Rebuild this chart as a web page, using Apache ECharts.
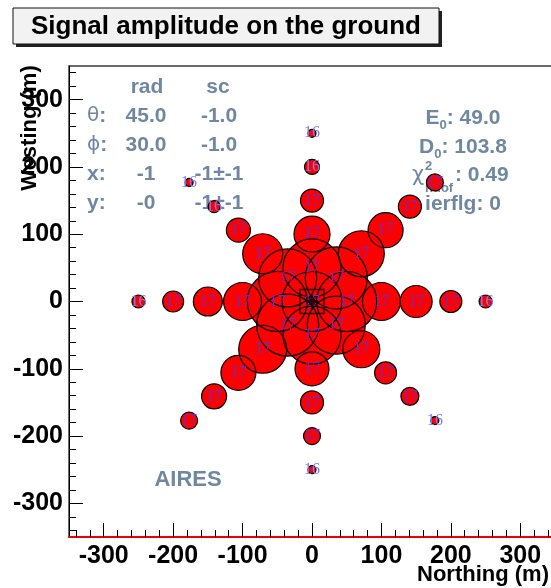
<!DOCTYPE html>
<html lang="en">
<head>
<meta charset="UTF-8">
<title>Signal amplitude on the ground</title>
<script src="https://cdn.jsdelivr.net/npm/echarts@6/dist/echarts.min.js"></script>
<style>
  html, body { margin: 0; padding: 0; background: #fff; }
</style>
</head>
<body>
<div id="main" style="width: 551px;height:588px;"></div>

<script type="text/javascript">
  // station positions (m), order: core, then rings of 50..250 m going E, NE, N, NW, W, SW, S, SE
  var northing = [0,
    50, 35, 0, -35, -50, -35, 0, 35,
    100, 71, 0, -71, -100, -71, 0, 71,
    150, 106, 0, -106, -150, -106, 0, 106,
    200, 141, 0, -141, -200, -141, 0, 141,
    250, 177, 0, -177, -250, -177, 0, 177];
  var westing = [0,
    0, 35, 50, 35, 0, -35, -50, -35,
    0, 71, 100, 71, 0, -71, -100, -71,
    0, 106, 150, 106, 0, -106, -150, -106,
    0, 141, 200, 141, 0, -141, -200, -141,
    0, 177, 250, 177, 0, -177, -250, -177];
  // signal amplitude (arbitrary units, drawn as circle radius)
  var signal = [30,
    30, 31, 29, 29, 30, 31, 29, 29,
    19, 23, 18, 20, 19, 24, 17, 18.5,
    16, 17.5, 11.5, 12, 14.5, 17.5, 11.5, 11,
    11, 11.5, 7.5, 6, 10.5, 12.5, 8.5, 9,
    6.5, 8.5, 4, 4, 6.5, 8.5, 4, 4];
  var stationCode = ['17',
    '17', '17', '17', '17', '17', '17', '17', '17',
    '17', '17', '17', '17', '17', '17', '17', '17',
    '17', '17', '17', '17', '17', '17', '17', '17',
    '17', '17', '16', '16', '17', '17', '17', '17',
    '16', '17', '16', '16', '16', '17', '16', '16'];

  var coreN = [0];
  var coreW = [0];

  var majorTicks = [-300, -200, -100, 0, 100, 200, 300];
  var minorTicks = [];
  for (var t = -340; t <= 340; t += 20) minorTicks.push(t);

  var statHead = ['rad', 'sc'];
  var statName = ['{g|θ}:', '{g|ϕ}:', 'x:', 'y:'];
  var statRad = ['45.0', '30.0', '-1', '-0'];
  var statSc = ['-1.0', '-1.0', '-1±-1', '-1±-1'];
  var fitE0 = '49.0';
  var fitD0 = '103.8';
  var fitChi2 = '0.49';
  var fitIerflg = '0';

  var FONT = '"Liberation Sans", Arial, Helvetica, sans-serif';
  var STAT = '#6f88a2';
  var GRID_W = 486, GRID_H = 471;

  var myChart = echarts.init(document.getElementById('main'));

  var stations = northing.map(function (n, i) {
    return [n, westing[i], signal[i]];
  });
  var outlined = stations.map(function (p, i) {
    return {
      value: p,
      label: { color: stationCode[i] === '16' ? '#7c7cf6' : '#6a2cc4' }
    };
  });

  var g = [];
  // title box
  g.push({ type: 'rect', shape: { x: 16, y: 11, width: 426, height: 36 }, style: { fill: '#222' }, z: 10 });
  g.push({ type: 'rect', shape: { x: 13, y: 8, width: 426, height: 36 }, style: { fill: '#f2f2f2', stroke: '#111', lineWidth: 1 }, z: 11 });
  g.push({ type: 'text', x: 226, y: 27, z: 12, style: {
    text: 'Signal amplitude on the ground', font: 'bold 26px ' + FONT, fill: '#000',
    textAlign: 'center', align: 'center', textVerticalAlign: 'middle', verticalAlign: 'middle' } });
  // axis titles
  g.push({ type: 'text', x: 30, y: 128, rotation: Math.PI / 2, z: 5, style: {
    text: 'Westing (m)', font: 'bold 22px ' + FONT, fill: '#000',
    textAlign: 'center', align: 'center', textVerticalAlign: 'middle', verticalAlign: 'middle' } });
  g.push({ type: 'text', x: 549, y: 575, z: 5, style: {
    text: 'Northing (m)', font: 'bold 22px ' + FONT, fill: '#000',
    textAlign: 'right', align: 'right', textVerticalAlign: 'middle', verticalAlign: 'middle' } });

  function txt(s, x, y, align, extra) {
    var st = { text: s, font: 'bold 21px ' + FONT, fill: STAT,
      textAlign: align, align: align, textVerticalAlign: 'middle', verticalAlign: 'middle' };
    if (extra) for (var k in extra) st[k] = extra[k];
    return { type: 'text', x: x, y: y, z: 0, style: st };
  }
  // left stats block
  g.push(txt(statHead[0], 147, 87, 'center'));
  g.push(txt(statHead[1], 218, 87, 'center'));
  for (var r = 0; r < 4; r++) {
    var yy = 116 + r * 29;
    g.push(txt(statName[r], 87, yy, 'left', {
      rich: { g: { fontSize: 20, fontWeight: 'normal', fontFamily: 'DejaVu Sans', fill: STAT } } }));
    g.push(txt(statRad[r], 146, yy, 'center'));
    g.push(txt(statSc[r], 219, yy, 'center'));
  }
  // right stats block
  var subRich = { s: { fontSize: 13, fontWeight: 'bold', fontFamily: FONT, fill: STAT, lineHeight: 13, verticalAlign: 'bottom' },
                  m: { fontSize: 21, fontWeight: 'bold', fontFamily: FONT, fill: STAT, lineHeight: 28 } };
  g.push(txt('{m|E}{s|0}{m|: ' + fitE0 + '}', 463, 118, 'center', { rich: subRich }));
  g.push(txt('{m|D}{s|0}{m|: ' + fitD0 + '}', 463, 147, 'center', { rich: subRich }));
  g.push(txt('χ', 412, 176, 'left', { font: '21px "DejaVu Sans"' }));
  g.push(txt('2', 425, 166, 'left', { font: 'bold 13px ' + FONT }));
  g.push(txt('ndof', 425, 188, 'left', { font: 'bold 13px ' + FONT }));
  g.push(txt(': ' + fitChi2, 455, 175, 'left'));
  g.push(txt('ierflg: ' + fitIerflg, 463, 204, 'center'));
  g.push(txt('AIRES', 188, 480, 'center', { font: 'bold 22px ' + FONT }));

  var tickLine = { color: '#000', width: 1 };
  var labelFont = { fontFamily: FONT, fontWeight: 'bold', fontSize: 25, color: '#000' };

  var option = {
    animation: false,
    grid: {
      left: 69, top: 66, width: GRID_W, height: GRID_H,
      outerBoundsMode: 'none', containLabel: false,
      show: true, borderColor: '#3a3a3a', borderWidth: 1.5, backgroundColor: 'rgba(0,0,0,0)'
    },
    xAxis: [
      {
        type: 'value', min: -350, max: 350, position: 'bottom',
        axisLine: { show: true, onZero: false, lineStyle: { color: '#ee0000', width: 2 } },
        axisTick: { show: true, inside: true, length: 14, customValues: majorTicks, lineStyle: tickLine },
        axisLabel: Object.assign({ customValues: majorTicks, margin: 7 }, labelFont),
        splitLine: { show: false }
      },
      {
        // minor ticks: a top axis shifted down onto the bottom edge, ticks pointing up
        type: 'value', min: -350, max: 350, position: 'top', offset: -GRID_H,
        axisLine: { show: false, onZero: false },
        axisTick: { show: true, inside: false, length: 7, customValues: minorTicks, lineStyle: tickLine },
        axisLabel: { show: false },
        splitLine: { show: false }
      }
    ],
    yAxis: [
      {
        type: 'value', min: -350, max: 350, position: 'left',
        axisLine: { show: true, onZero: false, lineStyle: { color: '#000', width: 1 } },
        axisTick: { show: true, inside: true, length: 14, customValues: majorTicks, lineStyle: tickLine },
        axisLabel: Object.assign({ customValues: majorTicks, margin: 6 }, labelFont),
        splitLine: { show: false }
      },
      {
        // minor ticks: a right axis shifted onto the left edge, ticks pointing right
        type: 'value', min: -350, max: 350, position: 'right', offset: -GRID_W,
        axisLine: { show: false, onZero: false },
        axisTick: { show: true, inside: false, length: 7, customValues: minorTicks, lineStyle: tickLine },
        axisLabel: { show: false },
        splitLine: { show: false }
      }
    ],
    graphic: g,
    series: [
      {
        // filled discs first, so every outline stays visible on top
        type: 'scatter', silent: true, z: 2,
        symbol: 'circle',
        symbolSize: function (v) { return v[2] * 2; },
        itemStyle: { color: '#ff0000', borderWidth: 0, opacity: 1 },
        data: stations
      },
      {
        type: 'scatter', silent: true, z: 3,
        symbol: 'circle',
        symbolSize: function (v) { return v[2] * 2; },
        itemStyle: { color: 'rgba(0,0,0,0)', borderColor: '#000', borderWidth: 1.2, opacity: 1 },
        label: {
          show: true, position: 'inside',
          fontFamily: '"Liberation Serif", "DejaVu Serif", serif', fontSize: 16,
          formatter: function (p) { return stationCode[p.dataIndex]; }
        },
        data: outlined
      },
      {
        // shower core
        type: 'scatter', silent: true, z: 4,
        symbol: 'rect', symbolSize: 24,
        itemStyle: { color: 'rgba(0,0,0,0)', borderColor: '#000', borderWidth: 1.5 },
        data: coreN.map(function (n, i) { return [n, coreW[i]]; })
      },
      {
        type: 'scatter', silent: true, z: 5,
        symbol: 'path://M0,-10 L2,-3 L7,-7 L3,-2 L10,0 L3,2 L7,7 L2,3 L0,10 L-2,3 L-7,7 L-3,2 L-10,0 L-3,-2 L-7,-7 L-2,-3Z',
        symbolSize: 17,
        itemStyle: { color: '#000' },
        data: coreN.map(function (n, i) { return [n, coreW[i]]; })
      }
    ]
  };

  myChart.setOption(option);
</script>
</body>
</html>
